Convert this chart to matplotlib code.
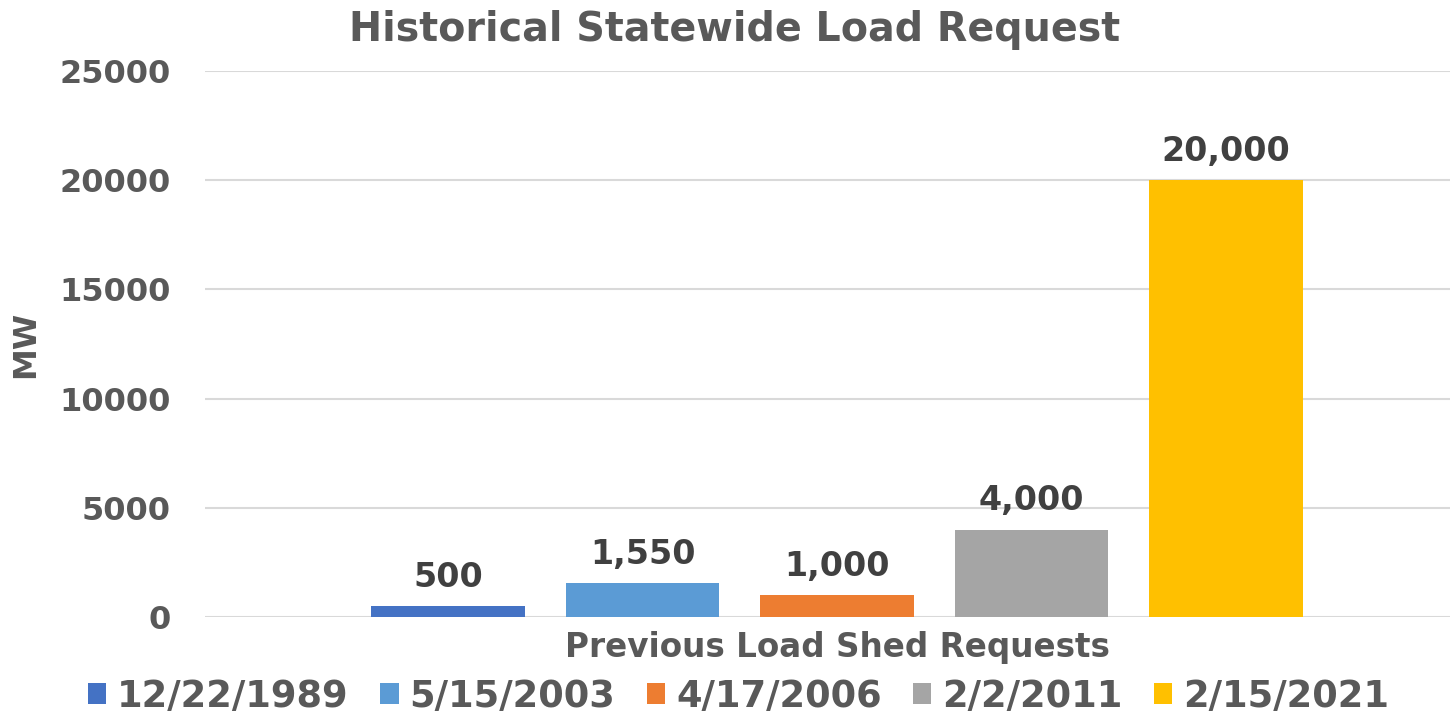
import matplotlib.pyplot as plt
import numpy as np

# Data
dates = ['12/22/1989', '5/15/2003', '4/17/2006', '2/2/2011', '2/15/2021']
load_mw = [500, 1550, 1000, 4000, 20000]
colors = ['#4472C4', '#5B9BD5', '#ED7D31', '#A5A5A5', '#FFC000']
category = 'Previous Load Shed Requests'
yticks = [0, 5000, 10000, 15000, 20000, 25000]

plt.rcParams['font.family'] = ['DejaVu Sans']
plt.rcParams['font.weight'] = 'bold'

fig = plt.figure(figsize=(14.54, 7.18), dpi=100)
ax = fig.add_axes([0.141, 0.1407, 0.856, 0.7604])

x = np.arange(len(dates)) - 2
for xi, v, c, d in zip(x, load_mw, colors, dates):
    ax.bar(xi, v, width=0.79, color=c, label=d, zorder=3)
    ax.annotate(f'{v:,}', (xi, v), xytext=(0, 9), textcoords='offset points',
                ha='center', va='bottom', fontsize=24, fontweight='bold', color='#404040')

ax.set_xlim(-3.25, 3.15)
ax.set_ylim(0, 25000)
ax.set_yticks(yticks)
ax.set_yticklabels([str(t) for t in yticks])
ax.set_xticks([0])
ax.set_xticklabels([category])
ax.tick_params(axis='y', length=0, pad=25, labelsize=23, labelcolor='#595959')
ax.tick_params(axis='x', length=0, pad=10, labelsize=23.5, labelcolor='#595959')
ax.grid(axis='y', color='#D9D9D9', linewidth=1.5, zorder=0)
for s in ax.spines.values():
    s.set_visible(False)

ax.set_ylabel('MW', fontsize=23, fontweight='bold', color='#595959')
ax.yaxis.set_label_coords(-0.132, 0.5)

# title sits left of the plot-area centre in the original
fig.text(0.5055, 0.958, 'Historical Statewide Load Request', fontsize=28.5,
         fontweight='bold', color='#595959', ha='center', va='center')

leg = fig.legend(loc='center', bbox_to_anchor=(0.508, 0.03), ncol=5, frameon=False,
                 fontsize=26.5, handlelength=0.5, handleheight=0.5, handletextpad=0.3,
                 columnspacing=0.85)
for t in leg.get_texts():
    t.set_color('#595959')

fig.savefig('out.png', dpi=100)
